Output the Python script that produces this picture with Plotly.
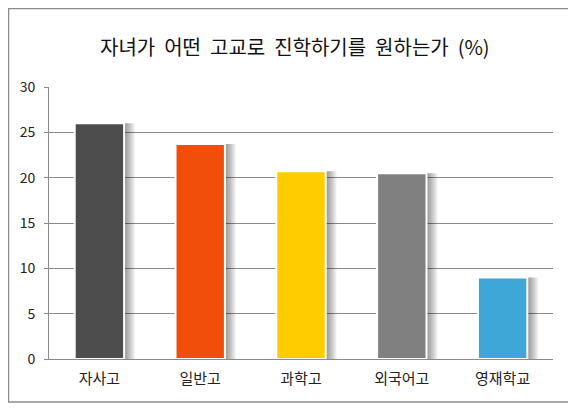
import plotly.graph_objects as go

categories = ["자사고", "일반고", "과학고", "외국어고", "영재학교"]
values = [26.0, 23.7, 20.7, 20.5, 9.0]
colors = ["#4d4d4d", "#f04e0a", "#ffcc00", "#808080", "#3fa6d8"]
tick_values = [0, 5, 10, 15, 20, 25, 30]

FONT = "Noto Sans CJK KR"
BAR_WIDTH = 0.49

fig = go.Figure()

# soft drop shadow: stacked translucent bars shifted to the right
for step in range(1, 12):
    fig.add_trace(
        go.Bar(
            x=categories,
            y=values,
            width=BAR_WIDTH,
            offset=-BAR_WIDTH / 2 + step * 0.01,
            marker=dict(color="rgba(0,0,0,0.045)", line=dict(width=0)),
            hoverinfo="skip",
            showlegend=False,
        )
    )

fig.add_trace(
    go.Bar(
        x=categories,
        y=values,
        width=BAR_WIDTH,
        offset=-BAR_WIDTH / 2,
        marker=dict(color=colors, line=dict(color="white", width=2)),
        showlegend=False,
    )
)

# the page body has an 8px margin, so the figure is drawn 8px smaller
fig.update_layout(
    width=568,
    height=401,
    margin=dict(l=41, r=23, t=79, b=50),
    paper_bgcolor="white",
    plot_bgcolor="white",
    barmode="overlay",
    font=dict(family=FONT, color="#222222", size=14),
    title=dict(
        text="자녀가\u00a0 어떤\u00a0 고교로\u00a0 진학하기를\u00a0 원하는가\u00a0 (%)",
        x=0.505,
        xanchor="center",
        y=0.9,
        yanchor="middle",
        font=dict(family=FONT, size=20, color="#111111"),
    ),
    shapes=[
        dict(
            type="rect",
            xref="paper",
            yref="paper",
            x0=-0.0804,
            x1=1.0327,
            y0=-0.158,
            y1=1.2886,
            line=dict(color="#8c8c8c", width=1.5),
            fillcolor="rgba(0,0,0,0)",
            layer="below",
        )
    ],
)

fig.update_yaxes(
    range=[0, 30],
    tickvals=tick_values,
    showgrid=True,
    gridcolor="#8a8a8a",
    gridwidth=1,
    showline=True,
    linecolor="#8a8a8a",
    linewidth=1,
    ticks="outside",
    ticklen=4,
    tickcolor="#8a8a8a",
    tickfont=dict(size=14, color="#222222"),
    ticklabelstandoff=6,
    zeroline=False,
)
fig.update_xaxes(
    showline=True,
    linecolor="#8a8a8a",
    linewidth=1,
    ticks="",
    tickfont=dict(size=15, color="#222222"),
    ticklabelstandoff=6,
    range=[-0.5, 4.5],
)

fig.write_html("out.html")
